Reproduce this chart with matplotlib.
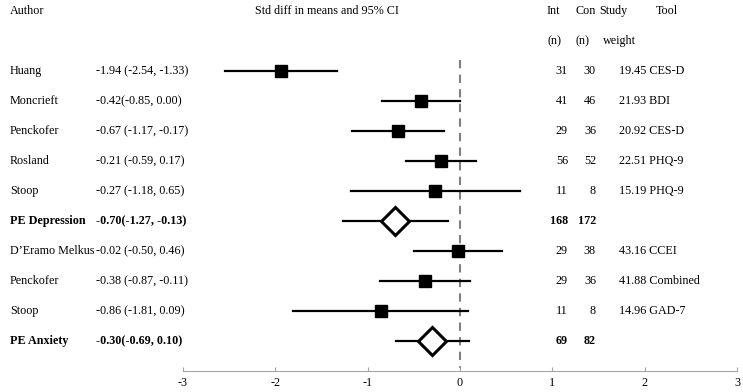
import matplotlib
matplotlib.use("Agg")
import matplotlib.pyplot as plt
import matplotlib.transforms as mtransforms

# Données
authors = ["Huang", "Moncrieft", "Penckofer", "Rosland", "Stoop", "PE Depression",
           "D\u2019Eramo Melkus", "Penckofer", "Stoop", "PE Anxiety"]
effect = [-1.94, -0.42, -0.67, -0.21, -0.27, -0.70, -0.02, -0.38, -0.86, -0.30]
lower = [-2.54, -0.85, -1.17, -0.59, -1.18, -1.27, -0.50, -0.87, -1.81, -0.69]
upper = [-1.33, 0.00, -0.17, 0.17, 0.65, -0.13, 0.46, 0.11, 0.09, 0.10]
ci_text = ["-1.94 (-2.54, -1.33)", "-0.42(-0.85, 0.00)", "-0.67 (-1.17, -0.17)",
           "-0.21 (-0.59, 0.17)", "-0.27 (-1.18, 0.65)", "-0.70(-1.27, -0.13)",
           "-0.02 (-0.50, 0.46)", "-0.38 (-0.87, -0.11)", "-0.86 (-1.81, 0.09)",
           "-0.30(-0.69, 0.10)"]
n_int = [31, 41, 29, 56, 11, 168, 29, 29, 11, 69]
n_con = [30, 46, 36, 52, 8, 172, 38, 36, 8, 82]
weight = [19.45, 21.93, 20.92, 22.51, 15.19, None, 43.16, 41.88, 14.96, None]
tool = ["CES-D", "BDI", "CES-D", "PHQ-9", "PHQ-9", "", "CCEI", "Combined", "GAD-7", ""]
pooled = [False, False, False, False, False, True, False, False, False, True]
xticks = [-3, -2, -1, 0, 1, 2, 3]

W, H = 743, 392
dpi = 100
plt.rcParams["font.family"] = ["Liberation Serif", "DejaVu Serif"]
fs = 8.7

fig = plt.figure(figsize=(W / dpi, H / dpi), dpi=dpi, facecolor="white")
ax = fig.add_axes([183 / W, 21 / H, 554 / W, 1 - 21 / H])
ax.set_xlim(-3, 3)
ax.set_ylim(10, -2.37)

# ligne de référence
ax.plot([0, 0], [-0.37, 9.9], color="#808080", lw=1.5, ls=(0, (4, 3)), zorder=1)

for i in range(len(authors)):
    ax.plot([lower[i], upper[i]], [i, i], color="black", lw=1.6, zorder=2)
    if pooled[i]:
        ax.plot(effect[i], i, marker="D", ms=14.5, mfc="white", mec="black", mew=2.2, zorder=3)
    else:
        ax.plot(effect[i], i, marker="s", ms=8, mfc="black", mec="black", zorder=3)

# axe
for s in ["top", "right", "left"]:
    ax.spines[s].set_visible(False)
ax.spines["bottom"].set_color("#a6a6a6")
ax.set_xticks(xticks)
ax.set_xticklabels([str(t) for t in xticks], fontsize=fs)
ax.tick_params(axis="x", direction="in", length=3, color="#a6a6a6", pad=4)
ax.set_yticks([])

# colonnes de texte
tr = mtransforms.blended_transform_factory(fig.transFigure, ax.transData)
def fx(px):
    return px / W

ax.text(fx(10), -2, "Author", transform=tr, fontsize=fs, va="center")
ax.text(fx(327), -2, "Std diff in means and 95% CI", transform=tr, fontsize=fs, va="center", ha="center")
ax.text(fx(547), -2, "Int", transform=tr, fontsize=fs, va="center")
ax.text(fx(576), -2, "Con", transform=tr, fontsize=fs, va="center")
ax.text(fx(599), -2, "Study", transform=tr, fontsize=fs, va="center")
ax.text(fx(656), -2, "Tool", transform=tr, fontsize=fs, va="center")
ax.text(fx(547), -1, "(n)", transform=tr, fontsize=fs, va="center")
ax.text(fx(576), -1, "(n)", transform=tr, fontsize=fs, va="center")
ax.text(fx(603), -1, "weight", transform=tr, fontsize=fs, va="center")

for i in range(len(authors)):
    fw = "bold" if pooled[i] else "normal"
    ax.text(fx(10), i, authors[i], transform=tr, fontsize=fs, va="center", fontweight=fw)
    ax.text(fx(96), i, ci_text[i], transform=tr, fontsize=fs, va="center", fontweight=fw)
    ax.text(fx(568), i, str(n_int[i]), transform=tr, fontsize=fs, va="center", ha="right", fontweight=fw)
    ax.text(fx(596), i, str(n_con[i]), transform=tr, fontsize=fs, va="center", ha="right", fontweight=fw)
    if weight[i] is not None:
        ax.text(fx(619), i, f"{weight[i]:.2f} {tool[i]}", transform=tr, fontsize=fs, va="center")

fig.savefig("out.png", dpi=dpi, facecolor="white")
